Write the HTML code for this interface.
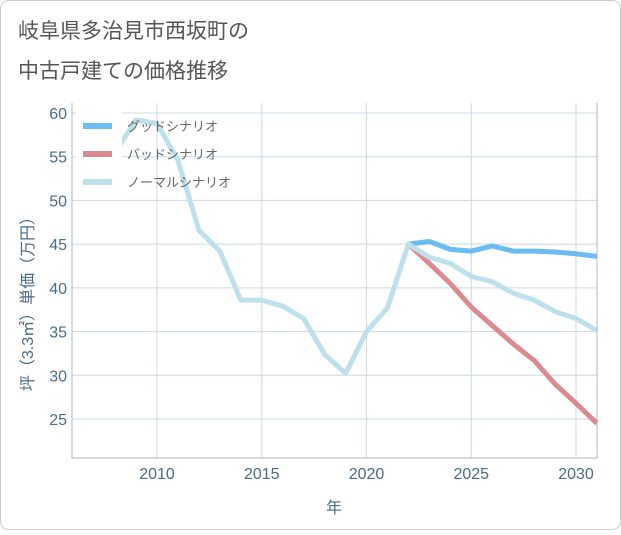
<!DOCTYPE html>
<html><head><meta charset="utf-8"><style>
body{margin:0;background:#fff;}
#wrap{position:relative;width:621px;height:530px;font-family:"Liberation Sans","Noto Sans CJK JP",sans-serif;}
</style></head><body>
<div id="wrap">
<svg id="chart" width="621" height="530" xmlns="http://www.w3.org/2000/svg">
<rect x="0.5" y="0.5" width="620" height="529" rx="8" fill="#fff" stroke="#ccc"/>
<text x="18" y="38" font-size="21" fill="#555">岐阜県多治見市西坂町の</text>
<text x="18" y="78" font-size="21" fill="#555">中古戸建ての価格推移</text>
<g id="grid"></g><g id="series"></g><g id="axes"></g>
<text transform="translate(33,300) rotate(-90)" text-anchor="middle" font-size="16" fill="#4a6a8a">坪（3.3㎡）単価（万円）</text>
<text x="334" y="513" text-anchor="middle" font-size="16" fill="#4a6a8a">年</text>
<g id="legend"></g>
</svg>
</div>
<script>
const years=[2008,2009,2010,2011,2012,2013,2014,2015,2016,2017,2018,2019,2020,2021,2022,2023,2024,2025,2026,2027,2028,2029,2030,2031];
const normal=[55.5,59.2,58.8,54.6,46.6,44.2,38.6,38.6,37.9,36.5,32.4,30.2,35,37.7,45,43.5,42.8,41.3,40.7,39.4,38.6,37.3,36.5,35.1];
const goodYears=[2022,2023,2024,2025,2026,2027,2028,2029,2030,2031];
const good=[45,45.3,44.4,44.2,44.8,44.2,44.2,44.1,43.9,43.6];
const bad=[45,42.8,40.5,37.8,35.7,33.6,31.7,29.0,26.8,24.5];
const xTicks=[2010,2015,2020,2025,2030];
const yTicks=[25,30,35,40,45,50,55,60];
const L=72,R=597,T=103,B=458;
const x=v=>157+(v-2010)*(576-157)/20;
const y=v=>113+(60-v)*(419-113)/35;
const NS="http://www.w3.org/2000/svg";
function mk(p,t,a){const e=document.createElementNS(NS,t);for(const k in a)e.setAttribute(k,a[k]);p.appendChild(e);return e;}
const grid=document.getElementById('grid'),axes=document.getElementById('axes'),ser=document.getElementById('series'),leg=document.getElementById('legend');
xTicks.forEach(t=>{const l=mk(grid,'line',{x1:x(t),x2:x(t),y1:T,y2:B,stroke:'#ccd8e4','stroke-width':1});

const tx=mk(axes,'text',{x:x(t),y:479,'text-anchor':'middle','font-size':16,fill:'#4a6a8a'});tx.textContent=t;
});
yTicks.forEach(t=>{const l=mk(grid,'line',{x1:L,x2:R,y1:y(t),y2:y(t),stroke:'#ccd8e4','stroke-width':1});

const tx=mk(axes,'text',{x:67,y:y(t)+6,'text-anchor':'end','font-size':16,fill:'#4a6a8a'});tx.textContent=t;
});
const ax=mk(axes,'path',{d:`M${L},${T}V${B}H${R}V${T}`,fill:'none',stroke:'#aab8c6','stroke-width':1});

function line(xs,vs,c,n){const d=vs.map((v,i)=>(i?'L':'M')+x(xs[i]).toFixed(1)+','+y(v).toFixed(1)).join('');
const p=mk(ser,'path',{d:d,fill:'none',stroke:c,'stroke-width':5,'stroke-linejoin':'round'});
}
line(goodYears,good,'#6bbcf0','good-scenario-line');
line(goodYears,bad,'#dc8a90','bad-scenario-line');
line(years,normal,'#bde0ec','normal-scenario-line');
const lb=mk(leg,'rect',{x:76,y:108,width:46,height:92,fill:'#fff'});

[['グッドシナリオ','#6bbcf0'],['バッドシナリオ','#dc8a90'],['ノーマルシナリオ','#bde0ec']].forEach((e,i)=>{
const yy=126+i*28;
const s=mk(leg,'line',{x1:83,x2:112,y1:yy,y2:yy,stroke:e[1],'stroke-width':6});

const t=mk(leg,'text',{x:127,y:yy+5,'font-size':13,fill:'#666'});t.textContent=e[0];
});
</script>
</body></html>
